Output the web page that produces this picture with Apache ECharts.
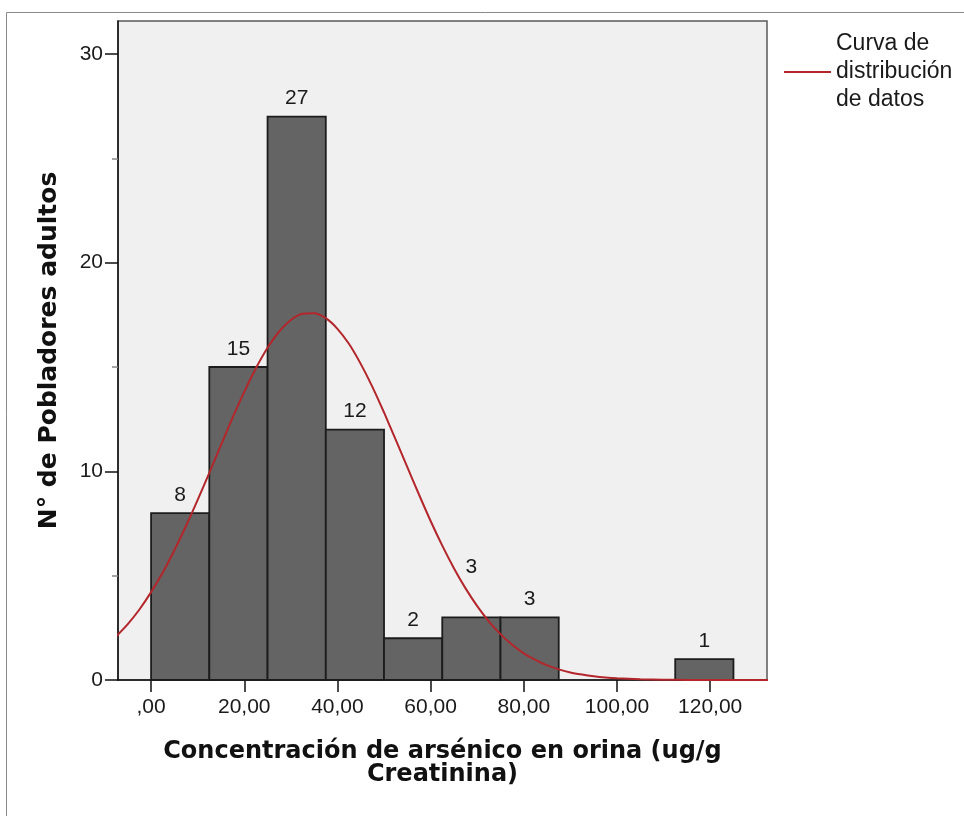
<!DOCTYPE html>
<html>
<head>
<meta charset="utf-8">
<title>Concentración de arsénico en orina</title>
<script src="https://cdn.jsdelivr.net/npm/echarts@6/dist/echarts.min.js"></script>
<style>
  html, body { margin: 0; padding: 0; background: #ffffff; }
  #chart { width: 964px; height: 816px; }
</style>
</head>
<body>
<div id="chart"></div>
<script>
// Histogram bins (ug/g creatinina), width 12.5
const binStarts = [0, 12.5, 25, 37.5, 50, 62.5, 75, 87.5, 100, 112.5];
const binWidth = 12.5;
const counts = [8, 15, 27, 12, 2, 3, 3, 0, 0, 1];

// Fitted distribution curve, sampled along the concentration axis
const curveX = [-7.5, -5, -2.5, 0, 2.5, 5, 7.5, 10, 12.5, 15, 17.5, 20, 22.5, 25, 27.5, 30,
  32.5, 35, 37.5, 40, 42.5, 45, 47.5, 50, 52.5, 55, 57.5, 60, 62.5, 65, 67.5, 70, 72.5,
  75, 77.5, 80, 82.5, 85, 87.5, 90, 92.5, 95, 97.5, 100, 105, 110, 115, 120, 125, 132.5];
const curveY = [2.09, 2.68, 3.38, 4.21, 5.15, 6.22, 7.38, 8.63, 9.93, 11.26, 12.57, 13.81,
  14.94, 15.92, 16.70, 17.25, 17.55, 17.58, 17.34, 16.83, 16.10, 15.15, 14.05, 12.82, 11.52,
  10.20, 8.89, 7.62, 6.44, 5.36, 4.39, 3.54, 2.81, 2.20, 1.69, 1.28, 0.96, 0.70, 0.51, 0.36,
  0.26, 0.18, 0.12, 0.08, 0.034, 0.014, 0.005, 0.002, 0.001, 0];

// Axis ticks
const xTickValues = [0, 20, 40, 60, 80, 100, 120];
const xTickLabels = [',00', '20,00', '40,00', '60,00', '80,00', '100,00', '120,00'];
const yTickValues = [0, 10, 20, 30];

const seriesName = 'Curva de\ndistribución\nde datos';
const xTitle = 'Concentración de arsénico en orina (ug/g\nCreatinina)';
const yTitle = 'N° de Pobladores adultos';

const CURVE_COLOR = '#b3262b';
const LABEL_FONT = '21px "Liberation Sans", Arial, sans-serif';
const LABEL_GAP = 18;        // px between bar top and its count
const RAISED_LABEL_INDEX = 5; // this count sits above the curve
const RAISED_LABEL_GAP = 50;

const chart = echarts.init(document.getElementById('chart'), null, { renderer: 'canvas' });

const barData = binStarts.map((s, i) => [s, counts[i]]);
const curveData = curveX.map((x, i) => [x, curveY[i]]);

chart.setOption({
  backgroundColor: '#ffffff',
  animation: false,
  textStyle: { fontFamily: '"Liberation Sans", Arial, sans-serif' },
  grid: {
    left: 118, right: 197, top: 21, bottom: 136,
    show: true,
    backgroundColor: '#f0f0f0',
    borderColor: '#5a5a5a',
    borderWidth: 1.5
  },
  legend: {
    left: 779,
    top: 25,
    itemWidth: 47,
    itemHeight: 2,
    data: [{ name: seriesName, icon: 'rect', itemStyle: { color: CURVE_COLOR } }],
    textStyle: {
      fontFamily: '"Liberation Sans", Arial, sans-serif',
      fontSize: 23,
      lineHeight: 28,
      color: '#1a1a1a'
    }
  },
  xAxis: {
    type: 'value',
    min: -7.1,
    max: 132.2,
    splitLine: { show: false },
    axisLine: { show: true, onZero: false, lineStyle: { color: '#111', width: 1.5 } },
    axisTick: {
      show: true,
      customValues: xTickValues,
      length: 12,
      lineStyle: { color: '#111', width: 1.5 }
    },
    axisLabel: {
      customValues: xTickValues,
      margin: 17,
      fontSize: 21,
      color: '#1a1a1a',
      formatter: v => xTickLabels[xTickValues.indexOf(v)]
    },
    name: xTitle,
    nameLocation: 'middle',
    nameGap: 60,
    nameTextStyle: {
      fontFamily: '"DejaVu Sans", sans-serif',
      fontWeight: 'bold',
      fontSize: 24,
      lineHeight: 23,
      color: '#111'
    }
  },
  yAxis: {
    type: 'value',
    min: 0,
    max: 31.58,
    interval: 10,
    splitLine: { show: false },
    axisLine: { show: true, onZero: false, lineStyle: { color: '#111', width: 1.5 } },
    axisTick: {
      show: true,
      customValues: yTickValues,
      length: 13,
      lineStyle: { color: '#111', width: 1.5 }
    },
    minorTick: { show: true, splitNumber: 2, length: 6, lineStyle: { color: '#888', width: 1.5 } },
    axisLabel: {
      customValues: yTickValues,
      margin: 15,
      fontSize: 21,
      color: '#1a1a1a'
    },
    name: yTitle,
    nameLocation: 'middle',
    nameGap: 56,
    nameTextStyle: {
      fontFamily: '"DejaVu Sans", sans-serif',
      fontWeight: 'bold',
      fontSize: 25,
      color: '#111'
    }
  },
  graphic: [
    { type: 'line', silent: true, shape: { x1: 6.5, y1: 12.5, x2: 964, y2: 12.5 },
      style: { stroke: '#8a8a8a', lineWidth: 1 } },
    { type: 'line', silent: true, shape: { x1: 6.5, y1: 12.5, x2: 6.5, y2: 816 },
      style: { stroke: '#8a8a8a', lineWidth: 1 } }
  ],
  series: [
    {
      type: 'custom',
      name: 'Frecuencia',
      z: 2,
      data: barData,
      encode: { x: 0, y: 1 },
      renderItem: function (params, api) {
        const start = api.value(0);
        const count = api.value(1);
        if (!count) return null;
        const topLeft = api.coord([start, count]);
        const bottomRight = api.coord([start + binWidth, 0]);
        const gap = params.dataIndex === RAISED_LABEL_INDEX ? RAISED_LABEL_GAP : LABEL_GAP;
        return {
          type: 'group',
          children: [
            {
              type: 'rect',
              shape: {
                x: topLeft[0], y: topLeft[1],
                width: bottomRight[0] - topLeft[0],
                height: bottomRight[1] - topLeft[1]
              },
              style: { fill: '#646464', stroke: '#1c1c1c', lineWidth: 1.8 }
            },
            {
              type: 'text',
              z2: 10,
              style: {
                text: String(count),
                x: (topLeft[0] + bottomRight[0]) / 2,
                y: topLeft[1] - gap,
                align: 'center',
                verticalAlign: 'middle',
                font: LABEL_FONT,
                fill: '#1a1a1a'
              }
            }
          ]
        };
      }
    },
    {
      type: 'line',
      name: seriesName,
      z: 3,
      data: curveData,
      smooth: 0.25,
      symbol: 'none',
      clip: true,
      lineStyle: { color: CURVE_COLOR, width: 2 },
      itemStyle: { color: CURVE_COLOR }
    }
  ]
});
</script>
</body>
</html>
